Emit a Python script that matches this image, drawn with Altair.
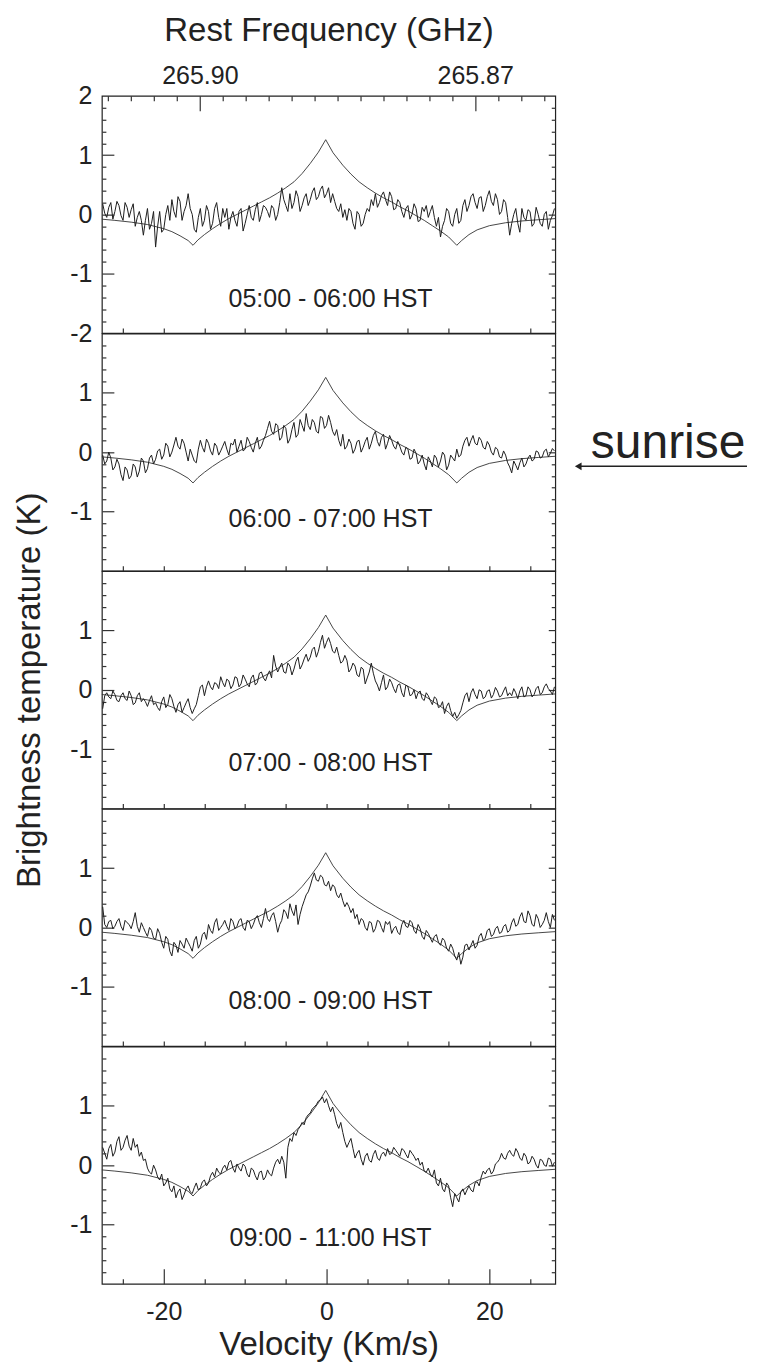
import altair as alt
import pandas as pd

FONT = "Liberation Sans"

# Velocity grid of the observed spectra (km/s): main channels and in-between channels
VELOCITY = [
    -27.5, -27.0, -26.5, -26.0, -25.5, -25.0, -24.5, -24.0, -23.5, -23.0,
    -22.5, -22.0, -21.5, -21.0, -20.5, -20.0, -19.5, -19.0, -18.5, -18.0,
    -17.5, -17.0, -16.5, -16.0, -15.5, -15.0, -14.5, -14.0, -13.5, -13.0,
    -12.5, -12.0, -11.5, -11.0, -10.5, -10.0, -9.5, -9.0, -8.5, -8.0,
    -7.5, -7.0, -6.5, -6.0, -5.5, -5.0, -4.5, -4.0, -3.5, -3.0,
    -2.5, -2.0, -1.5, -1.0, -0.5, 0.0, 0.5, 1.0, 1.5, 2.0,
    2.5, 3.0, 3.5, 4.0, 4.5, 5.0, 5.5, 6.0, 6.5, 7.0,
    7.5, 8.0, 8.5, 9.0, 9.5, 10.0, 10.5, 11.0, 11.5, 12.0,
    12.5, 13.0, 13.5, 14.0, 14.5, 15.0, 15.5, 16.0, 16.5, 17.0,
    17.5, 18.0, 18.5, 19.0, 19.5, 20.0, 20.5, 21.0, 21.5, 22.0,
    22.5, 23.0, 23.5, 24.0, 24.5, 25.0, 25.5, 26.0, 26.5, 27.0,
    27.5, 28.0,
]
VELOCITY_MID = [
    -27.25, -26.75, -26.25, -25.75, -25.25, -24.75, -24.25, -23.75, -23.25, -22.75,
    -22.25, -21.75, -21.25, -20.75, -20.25, -19.75, -19.25, -18.75, -18.25, -17.75,
    -17.25, -16.75, -16.25, -15.75, -15.25, -14.75, -14.25, -13.75, -13.25, -12.75,
    -12.25, -11.75, -11.25, -10.75, -10.25, -9.75, -9.25, -8.75, -8.25, -7.75,
    -7.25, -6.75, -6.25, -5.75, -5.25, -4.75, -4.25, -3.75, -3.25, -2.75,
    -2.25, -1.75, -1.25, -0.75, -0.25, 0.25, 0.75, 1.25, 1.75, 2.25,
    2.75, 3.25, 3.75, 4.25, 4.75, 5.25, 5.75, 6.25, 6.75, 7.25,
    7.75, 8.25, 8.75, 9.25, 9.75, 10.25, 10.75, 11.25, 11.75, 12.25,
    12.75, 13.25, 13.75, 14.25, 14.75, 15.25, 15.75, 16.25, 16.75, 17.25,
    17.75, 18.25, 18.75, 19.25, 19.75, 20.25, 20.75, 21.25, 21.75, 22.25,
    22.75, 23.25, 23.75, 24.25, 24.75, 25.25, 25.75, 26.25, 26.75, 27.25,
    27.75,
]

OBS_0500 = [
    0.18, -0.05, 0.20, 0.05, 0.15, -0.10, 0.12, 0.08, -0.20, 0.05,
    -0.35, 0.10, -0.15, -0.55, 0.05, -0.25, 0.15, 0.25, -0.05, 0.22,
    0.05, 0.35, 0.00, -0.30, 0.10, -0.10, 0.05, -0.15, 0.20, -0.20,
    -0.05, -0.25, 0.05, -0.20, 0.10, -0.15, 0.15, -0.10, 0.20, 0.00,
    0.12, -0.05, 0.10, 0.00, 0.45, 0.15, 0.35, 0.20, 0.30, 0.15,
    0.35, 0.25, 0.45, 0.30, 0.48, 0.35, 0.20, 0.22, 0.05, -0.05,
    -0.10, 0.05, -0.25, 0.00, -0.15, 0.10, 0.25, 0.35, 0.20, 0.38,
    0.15, 0.30, 0.10, 0.20, -0.05, 0.15, 0.00, 0.10, -0.10, 0.05,
    -0.05, 0.15, -0.20, -0.38, -0.10, 0.05, -0.20, 0.10, -0.10, 0.25,
    0.15, 0.35, 0.10, 0.30, 0.15, 0.40, 0.15, 0.25, 0.05, 0.20,
    -0.35, 0.00, -0.15, 0.10, -0.10, 0.05, -0.15, 0.00, -0.20, 0.05,
    -0.10, 0.10,
]
OBS_0500_MID = [
    0.02, 0.12, -0.08, 0.22, -0.02, 0.20, -0.05, 0.18, -0.05, -0.10,
    -0.10, -0.25, 0.05, -0.20, -0.30, 0.00, -0.10, 0.05, 0.30, -0.10,
    0.15, 0.10, -0.25, -0.05, -0.20, 0.15, -0.25, 0.10, -0.05, 0.10,
    0.10, -0.05, -0.10, 0.05, -0.28, 0.00, -0.05, 0.08, -0.12, 0.15,
    0.05, 0.15, -0.10, 0.20, 0.25, 0.05, 0.10, 0.40, 0.05, 0.28,
    0.15, 0.38, 0.25, 0.42, 0.28, 0.45, 0.35, 0.10, 0.18, 0.08,
    0.10, -0.15, 0.05, -0.20, 0.00, 0.05, 0.15, 0.12, 0.32, 0.25,
    0.38, 0.08, 0.25, 0.05, 0.10, -0.08, 0.18, -0.12, 0.12, 0.15,
    0.05, -0.05, -0.05, -0.20, 0.10, -0.15, 0.00, -0.15, 0.15, 0.05,
    0.30, 0.20, 0.28, 0.05, 0.30, 0.22, 0.35, 0.00, 0.25, -0.05,
    -0.15, 0.10, -0.30, -0.05, 0.08, -0.20, 0.12, -0.15, 0.00, -0.25,
    -0.02,
]

OBS_0600 = [
    -0.05, -0.15, -0.10, -0.25, -0.20, -0.48, -0.30, -0.40, -0.25, -0.32,
    -0.15, -0.28, -0.05, -0.12, 0.05, -0.05, 0.10, 0.00, 0.25, 0.05,
    0.15, -0.15, -0.05, -0.18, 0.20, 0.00, 0.15, -0.05, 0.10, 0.02,
    0.18, -0.05, 0.12, 0.00, 0.20, 0.05, 0.18, 0.00, 0.25, 0.10,
    0.28, 0.52, 0.30, 0.45, 0.25, 0.40, 0.22, 0.50, 0.30, 0.45,
    0.65, 0.38, 0.50, 0.32, 0.58, 0.45, 0.50, 0.28, 0.20, 0.30,
    0.10, 0.15, 0.05, 0.20, 0.08, 0.25, 0.15, 0.35, 0.10, 0.30,
    0.15, 0.20, 0.05, 0.10, -0.05, 0.05, -0.10, -0.02, -0.15, -0.20,
    -0.08, -0.25, -0.10, -0.15, -0.05, -0.22, -0.10, 0.05, -0.05, 0.20,
    0.10, 0.28, 0.12, 0.20, 0.05, 0.12, -0.05, 0.05, -0.10, -0.05,
    -0.25, -0.15, -0.30, -0.10, -0.20, -0.05, -0.12, 0.00, -0.08, 0.05,
    -0.02, 0.02,
]
OBS_0600_MID = [
    -0.20, 0.00, -0.30, -0.12, -0.38, -0.25, -0.45, -0.20, -0.42, -0.10,
    -0.35, -0.10, -0.20, 0.02, -0.12, 0.15, -0.08, 0.12, 0.10, 0.22,
    0.00, 0.05, -0.15, 0.05, 0.08, 0.22, 0.02, 0.15, -0.05, 0.10,
    0.05, 0.15, 0.22, 0.10, 0.02, 0.25, 0.08, 0.15, 0.05, 0.20,
    0.40, 0.35, 0.48, 0.20, 0.45, 0.15, 0.38, 0.25, 0.55, 0.35,
    0.45, 0.55, 0.35, 0.60, 0.40, 0.62, 0.35, 0.38, 0.10, 0.05,
    0.22, -0.02, 0.18, 0.00, 0.18, 0.05, 0.28, 0.18, 0.25, 0.05,
    0.28, 0.10, 0.18, 0.00, 0.08, -0.12, 0.05, -0.20, -0.05, -0.30,
    -0.15, -0.05, -0.25, 0.00, -0.30, -0.05, -0.15, -0.08, 0.10, 0.25,
    0.20, 0.15, 0.25, 0.08, 0.18, 0.00, 0.08, -0.08, 0.02, -0.18,
    -0.35, -0.22, -0.18, -0.25, -0.10, -0.15, 0.02, -0.10, 0.02, -0.08,
    0.06,
]

OBS_0700 = [
    -0.32, -0.05, -0.15, -0.08, -0.20, -0.05, -0.18, -0.10, -0.22, -0.05,
    -0.15, -0.28, -0.10, -0.22, -0.35, -0.12, -0.25, -0.15, -0.38, -0.20,
    -0.30, -0.15, -0.40, -0.25, 0.05, -0.10, 0.15, 0.00, 0.10, 0.22,
    0.05, 0.15, 0.08, 0.20, 0.10, 0.18, 0.05, 0.25, 0.12, 0.30,
    0.15, 0.32, 0.58, 0.30, 0.45, 0.28, 0.40, 0.35, 0.55, 0.42,
    0.60, 0.55, 0.72, 0.65, 0.92, 0.80, 0.78, 0.62, 0.58, 0.48,
    0.50, 0.35, 0.40, 0.22, 0.35, 0.20, 0.45, 0.15, -0.02, 0.25,
    0.05, 0.12, -0.05, 0.10, -0.12, 0.05, -0.08, -0.15, -0.02, -0.18,
    -0.10, -0.25, -0.15, -0.28, -0.40, -0.22, -0.45, -0.48, -0.35, -0.10,
    -0.20, 0.02, -0.15, -0.02, -0.12, 0.00, -0.08, -0.02, -0.10, 0.05,
    -0.05, 0.02, -0.15, 0.05, -0.10, 0.00, -0.08, 0.06, -0.05, 0.10,
    -0.02, 0.05,
]
OBS_0700_MID = [
    -0.10, -0.12, -0.02, -0.18, -0.10, -0.15, -0.02, -0.25, -0.10, -0.20,
    -0.20, -0.18, -0.25, -0.30, -0.20, -0.30, -0.08, -0.28, -0.25, -0.38,
    -0.22, -0.30, -0.32, -0.10, 0.08, 0.05, 0.05, 0.12, 0.02, 0.12,
    0.18, 0.02, 0.22, 0.05, 0.25, 0.10, 0.20, 0.08, 0.28, 0.20,
    0.25, 0.20, 0.40, 0.38, 0.30, 0.45, 0.25, 0.48, 0.35, 0.52,
    0.48, 0.68, 0.55, 0.80, 0.70, 0.88, 0.65, 0.72, 0.45, 0.58,
    0.30, 0.45, 0.25, 0.38, 0.10, 0.30, 0.28, 0.08, 0.12, 0.00,
    0.18, 0.02, 0.08, -0.05, 0.08, -0.10, 0.00, -0.05, -0.15, -0.05,
    -0.18, -0.12, -0.30, -0.20, -0.28, -0.35, -0.38, -0.42, -0.22, -0.05,
    -0.05, -0.08, 0.00, -0.15, -0.02, -0.14, 0.04, -0.12, -0.02, -0.10,
    -0.10, -0.05, -0.02, -0.12, 0.05, -0.12, 0.02, -0.08, 0.05, 0.02,
    -0.08,
]

OBS_0800 = [
    0.35, 0.00, 0.12, 0.02, 0.15, -0.05, 0.08, -0.02, 0.25, -0.08,
    0.00, -0.15, -0.05, -0.20, -0.10, -0.35, -0.20, -0.48, -0.30, -0.22,
    -0.35, -0.25, -0.40, -0.15, -0.28, -0.08, 0.05, -0.10, 0.15, 0.00,
    0.12, -0.05, 0.10, 0.02, 0.15, -0.05, 0.10, 0.05, 0.20, 0.00,
    0.32, 0.10, 0.25, -0.08, 0.12, 0.25, 0.40, 0.20, 0.05, 0.35,
    0.55, 0.70, 0.92, 0.78, 0.85, 0.70, 0.62, 0.68, 0.50, 0.45,
    0.42, 0.25, 0.15, 0.05, 0.12, -0.05, 0.08, -0.02, 0.10, -0.08,
    0.05, -0.10, 0.02, -0.12, 0.12, 0.00, 0.08, -0.10, -0.02, -0.20,
    -0.10, -0.25, -0.12, -0.30, -0.22, -0.40, -0.35, -0.55, -0.62, -0.30,
    -0.38, -0.22, -0.30, -0.10, -0.18, -0.02, -0.12, 0.02, -0.08, 0.05,
    -0.05, 0.15, 0.05, 0.25, 0.08, 0.20, 0.02, 0.15, 0.05, 0.25,
    0.00, 0.12,
]
OBS_0800_MID = [
    0.05, 0.10, -0.02, 0.10, 0.02, 0.12, 0.05, 0.10, 0.02, 0.08,
    -0.08, 0.00, -0.18, -0.02, -0.25, -0.15, -0.40, -0.25, -0.42, -0.28,
    -0.18, -0.32, -0.22, -0.35, -0.12, -0.20, -0.05, 0.08, -0.05, 0.05,
    0.02, 0.15, -0.02, 0.12, 0.00, 0.12, -0.02, 0.15, 0.08, 0.15,
    0.15, 0.20, 0.10, 0.05, 0.30, 0.15, 0.28, 0.38, 0.22, 0.45,
    0.60, 0.82, 0.80, 0.88, 0.72, 0.78, 0.72, 0.55, 0.58, 0.35,
    0.35, 0.32, 0.22, 0.15, 0.00, 0.10, -0.08, 0.12, 0.00, 0.10,
    0.10, -0.02, -0.08, 0.05, 0.02, 0.12, -0.05, 0.05, -0.15, -0.05,
    -0.18, -0.15, -0.25, -0.18, -0.35, -0.28, -0.48, -0.42, -0.50, -0.28,
    -0.30, -0.35, -0.15, -0.22, -0.05, -0.15, -0.02, -0.10, 0.02, -0.08,
    0.08, 0.02, 0.18, 0.10, 0.28, 0.05, 0.22, 0.00, 0.12, 0.10,
    0.22,
]

OBS_0900 = [
    0.30, 0.10, 0.35, 0.22, 0.48, 0.30, 0.50, 0.25, 0.30, 0.15,
    0.08, -0.05, -0.15, -0.08, -0.25, -0.35, -0.22, -0.45, -0.55, -0.40,
    -0.50, -0.35, -0.48, -0.30, -0.38, -0.25, -0.30, -0.12, -0.05, -0.15,
    0.00, 0.05, -0.05, 0.02, -0.10, -0.02, -0.20, -0.08, -0.25, -0.10,
    -0.20, -0.15, -0.05, 0.10, 0.15, -0.22, 0.45, 0.55, 0.60, 0.72,
    0.80, 0.88, 0.98, 1.08, 1.15, 1.12, 0.90, 0.85, 0.62, 0.55,
    0.30, 0.45, 0.12, 0.25, 0.00, 0.20, 0.05, 0.25, 0.08, 0.22,
    0.28, 0.20, 0.25, 0.15, 0.25, 0.12, 0.20, 0.08, 0.00, -0.10,
    -0.05, -0.20, -0.30, -0.22, -0.45, -0.35, -0.70, -0.55, -0.45, -0.50,
    -0.35, -0.45, -0.28, -0.20, -0.15, -0.05, -0.10, 0.05, 0.20, 0.10,
    0.25, 0.15, 0.22, 0.08, 0.15, 0.05, 0.10, -0.05, 0.08, -0.02,
    0.10, 0.05,
]
OBS_0900_MID = [
    0.20, 0.28, 0.15, 0.40, 0.25, 0.42, 0.32, 0.45, 0.35, 0.22,
    0.10, -0.12, 0.00, -0.20, -0.15, -0.30, -0.40, -0.35, -0.45, -0.58,
    -0.40, -0.45, -0.38, -0.42, -0.28, -0.35, -0.18, -0.20, -0.12, -0.05,
    -0.08, 0.08, -0.12, -0.05, 0.02, -0.15, -0.05, -0.18, -0.12, -0.25,
    -0.08, -0.18, 0.05, 0.02, 0.05, 0.30, 0.40, 0.50, 0.65, 0.68,
    0.85, 0.95, 1.02, 1.10, 1.05, 1.00, 0.98, 0.70, 0.72, 0.40,
    0.38, 0.28, 0.20, 0.10, 0.15, 0.08, 0.18, 0.12, 0.18, 0.15,
    0.18, 0.30, 0.20, 0.28, 0.18, 0.25, 0.15, 0.12, 0.05, -0.12,
    -0.15, -0.08, -0.35, -0.40, -0.30, -0.55, -0.48, -0.62, -0.40, -0.42,
    -0.42, -0.30, -0.35, -0.10, -0.08, -0.15, 0.02, 0.10, 0.12, 0.20,
    0.18, 0.28, 0.12, 0.20, 0.02, 0.15, 0.00, 0.10, 0.00, 0.12,
    -0.02,
]

# Model line (same in every panel)
MODEL_V = [-27.6, -26, -24, -22, -20, -19, -18, -17, -16.4, -15.8, -15, -14, -13,
           -12, -11, -10, -9, -8, -7, -6, -5, -4, -3, -2, -1, -0.1, 0.8, 2, 3,
           4, 5, 6, 7, 8, 9, 10, 11, 12, 13, 14, 15, 16.0, 16.6, 17.5, 18.5,
           20, 22, 24, 26, 28.1]
MODEL_T = [-0.08, -0.10, -0.13, -0.17, -0.24, -0.29, -0.36, -0.44, -0.52, -0.43,
           -0.34, -0.24, -0.15, -0.07, 0.00, 0.07, 0.14, 0.21, 0.28, 0.36, 0.45,
           0.55, 0.69, 0.86, 1.05, 1.26, 1.04, 0.83, 0.68, 0.55, 0.45, 0.36, 0.28,
           0.21, 0.13, 0.06, -0.02, -0.10, -0.19, -0.28, -0.38, -0.52, -0.44,
           -0.34, -0.26, -0.19, -0.14, -0.11, -0.09, -0.07]

PANEL_LABELS = ["05:00 - 06:00 HST", "06:00 - 07:00 HST", "07:00 - 08:00 HST",
                "08:00 - 09:00 HST", "09:00 - 11:00 HST"]
SERIES = [(OBS_0500, OBS_0500_MID), (OBS_0600, OBS_0600_MID), (OBS_0700, OBS_0700_MID),
          (OBS_0800, OBS_0800_MID), (OBS_0900, OBS_0900_MID)]

# Top axis: rest frequency (GHz)
F0 = 265.8862      # frequency at zero velocity
C_KMS = 299792.458
FREQ_LABELS = [265.90, 265.87]
FREQ_TICKS = [265.91, 265.9075, 265.905, 265.9025, 265.90, 265.8975, 265.895,
              265.8925, 265.89, 265.8875, 265.885, 265.8825, 265.88, 265.8775,
              265.875, 265.8725, 265.87, 265.8675, 265.865, 265.8625]


def f_to_v(f):
    return round(C_KMS * (F0 - f) / F0, 4)


FREQ_LABEL_POS = [f_to_v(f) for f in FREQ_LABELS]
FREQ_TICK_POS = [f_to_v(f) for f in FREQ_TICKS]

Y_TICKS = [-1.8, -1.6, -1.4, -1.2, -1.0, -0.8, -0.6, -0.4, -0.2, 0.0,
           0.2, 0.4, 0.6, 0.8, 1.0, 1.2, 1.4, 1.6, 1.8]
X_TICKS = [-25, -20, -15, -10, -5, 0, 5, 10, 15, 20, 25]
X_LABELS = [-20, 0, 20]

XDOM = [-27.6, 28.1]
W = 454
H = 237.6
LINE = "#1e1e1e"
LABEL_Y = [203, 186, 192, 192, 192]
MINUS_FIX = "replace(datum.label, '\u2212', '-')"

model_df = pd.DataFrame({"v": MODEL_V, "T": MODEL_T})


def cond(test, big, small):
    return {"condition": {"test": test, "value": big}, "value": small}


INT_TEST = "abs(datum.value - round(datum.value)) < 0.01"


def panel(i):
    first = i == 0
    last = i == 4
    xs = alt.Scale(domain=XDOM, nice=False, zero=False)
    ys = alt.Scale(domain=[-2, 2], nice=False, zero=False)
    main, mid = SERIES[i]
    obs_df = pd.DataFrame({"v": VELOCITY + VELOCITY_MID, "T": main + mid})
    obs_df = obs_df.sort_values("v").reset_index(drop=True)

    if last:
        mx_axis = alt.Axis(orient="bottom", values=X_LABELS, ticks=False, tickSize=0,
                           domain=False, labelFontSize=25, labelPadding=16,
                           labelExpr=MINUS_FIX,
                           title="Velocity (Km/s)", titleFontSize=33,
                           titleFontWeight="normal", titlePadding=4)
    elif first:
        mx_axis = alt.Axis(orient="top", values=FREQ_LABEL_POS, ticks=False, tickSize=0,
                           domain=False, labelFontSize=25, labelPadding=7,
                           labelExpr=f"format({F0} * (1 - datum.value / {C_KMS}), '.2f')",
                           title="Rest Frequency (GHz)", titleFontSize=33,
                           titleFontWeight="normal", titlePadding=16)
    else:
        mx_axis = None

    ylab_vals = [2, 1, 0, -1, -2] if first else [1, 0, -1]
    ylab_kwargs = dict(orient="left", values=ylab_vals, ticks=False, tickSize=0,
                       domain=False, labelFontSize=25, labelPadding=10,
                       labelExpr=MINUS_FIX)
    if i == 2:
        ylab_kwargs.update(title="Brightness temperature (K)", titleFontSize=33,
                           titleFontWeight="normal", titlePadding=23)
    else:
        ylab_kwargs.update(title=None)

    model = alt.Chart(model_df).mark_line(color="#333333", strokeWidth=0.9).encode(
        x=alt.X("v:Q", scale=xs, axis=mx_axis),
        y=alt.Y("T:Q", scale=ys, axis=alt.Axis(**ylab_kwargs)),
    )

    bottom_ticks = cond("abs(datum.value % 20) < 0.01", 15, 5) if last else 5
    obs = alt.Chart(obs_df).mark_line(color=LINE, strokeWidth=1.0).encode(
        x=alt.X("v:Q", scale=xs,
                axis=alt.Axis(orient="top", offset=-H, values=X_TICKS,
                              tickSize=bottom_ticks, labels=False, domain=False,
                              title=None)),
        y=alt.Y("T:Q", scale=ys,
                axis=alt.Axis(orient="right", offset=-W, values=Y_TICKS,
                              tickSize=cond(INT_TEST, 12, 4), labels=False,
                              domain=False, title=None)),
    )

    if first:
        test = " || ".join(f"abs(datum.value - ({p})) < 0.01" for p in FREQ_LABEL_POS)
        rx_axis = alt.Axis(orient="bottom", offset=-H, values=FREQ_TICK_POS,
                           tickSize=cond(test, 15, 5), labels=False, domain=False,
                           title=None)
    else:
        rx_axis = None
    right_ticks = alt.Chart(model_df).mark_line(strokeOpacity=0).encode(
        x=alt.X("v:Q", scale=xs, axis=rx_axis),
        y=alt.Y("T:Q", scale=ys,
                axis=alt.Axis(orient="left", offset=-W, values=Y_TICKS,
                              tickSize=cond(INT_TEST, 7, 4), labels=False,
                              domain=False, title=None)),
    )

    label = alt.Chart(pd.DataFrame({"label": [PANEL_LABELS[i]]})).mark_text(
        fontSize=25, color="#222222", align="center", baseline="middle"
    ).encode(x=alt.value(W / 2 + 2), y=alt.value(LABEL_Y[i]), text="label:N")

    layers = [model, obs, right_ticks, label]

    if i == 1:
        one = pd.DataFrame({"label": ["sunrise"]})
        sun = alt.Chart(one).mark_text(
            fontSize=48, color="#222222", align="center", baseline="alphabetic"
        ).encode(x=alt.value(567), y=alt.value(125), text="label:N")
        arrow = alt.Chart(one).mark_rule(color="#222222", strokeWidth=1.5).encode(
            x=alt.value(478), x2=alt.value(646), y=alt.value(133))
        head = alt.Chart(one).mark_point(
            shape="triangle-left", filled=True, color="#222222", size=60, opacity=1
        ).encode(x=alt.value(477), y=alt.value(133))
        layers += [sun, arrow, head]

    ch = alt.layer(*layers).resolve_axis(x="independent", y="independent")
    return ch.properties(width=W, height=H)


chart = alt.vconcat(*[panel(i) for i in range(5)], spacing=0, bounds="flush").properties(
    padding={"left": 5, "top": 5, "right": 0, "bottom": 5}
).configure(font=FONT).configure_view(
    stroke="#222222", strokeWidth=1.2
).configure_axis(
    grid=False, labelColor="#222222", titleColor="#222222",
    tickColor="#333333", tickWidth=1.2, labelFont=FONT, titleFont=FONT
)

chart.save("out.html", embed_options={"renderer": "svg", "actions": False})
